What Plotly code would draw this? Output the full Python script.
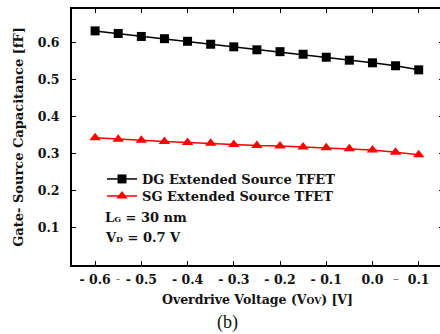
import plotly.graph_objects as go

vov = [-0.6, -0.55, -0.5, -0.45, -0.4, -0.35, -0.3, -0.25, -0.2, -0.15, -0.1, -0.05, 0.0, 0.05, 0.1]
dg_cgs = [0.631, 0.624, 0.616, 0.610, 0.603, 0.595, 0.588, 0.580, 0.575, 0.568, 0.560, 0.552, 0.545, 0.537, 0.526]
sg_cgs = [0.343, 0.339, 0.336, 0.333, 0.330, 0.328, 0.325, 0.322, 0.321, 0.318, 0.316, 0.313, 0.310, 0.304, 0.297]

x_tickvals = [-0.6, -0.5, -0.4, -0.3, -0.2, -0.1, 0.0, 0.1]
x_ticktext = ["- 0.6", "- 0.5", "- 0.4", "- 0.3", "- 0.2", "- 0.1", "0.0", "0.1"]
y_tickvals = [0.1, 0.2, 0.3, 0.4, 0.5, 0.6]
y_ticktext = ["0.1", "0.2", "0.3", "0.4", "0.5", "0.6"]

FONT = "DejaVu Serif"
W, H = 443, 334
pl, pr, pt, pb = 72, 0, 9, 69
pw, ph = W - pl - pr, H - pt - pb


def px_x(px):
    return (px - pl) / pw


def px_y(py):
    return (H - pb - py) / ph


fig = go.Figure()
fig.add_trace(go.Scatter(
    x=vov, y=dg_cgs, mode="lines+markers", name="DG Extended Source TFET",
    line=dict(color="black", width=1.5),
    marker=dict(symbol="square", size=9, color="black"),
    legend="legend",
))
fig.add_trace(go.Scatter(
    x=vov, y=sg_cgs, mode="lines+markers", name="SG Extended Source TFET",
    line=dict(color="red", width=1.5),
    marker=dict(symbol="triangle-up", size=10, color="red"),
    legend="legend2",
))

axis_common = dict(
    showline=True, linecolor="black", linewidth=2, mirror="ticks",
    ticks="inside", ticklen=4, tickwidth=1.2, tickcolor="black",
    showgrid=False, zeroline=False, automargin=False,
    tickfont=dict(family=FONT, size=12.5, color="#111", weight="bold"),
)

fig.update_xaxes(
    range=[-0.65, 0.1526], tickvals=x_tickvals, ticktext=x_ticktext,
    title=dict(text="Overdrive Voltage (V<span style='font-size:9px'>OV</span>) [V]",
               font=dict(family=FONT, size=12.5, color="#111", weight="bold"), standoff=9),
    ticklabelstandoff=2,
    **axis_common,
)
fig.update_yaxes(
    range=[0.0, 0.69], tickvals=y_tickvals, ticktext=y_ticktext,
    title=dict(text="Gate- Source Capacitance [fF]",
               font=dict(family=FONT, size=13, color="#111", weight="bold"), standoff=11),
    ticklabelstandoff=8,
    **axis_common,
)

annotations = [
    dict(x=-0.55, y=px_y(279), xref="x", yref="paper", text="-", showarrow=False,
         font=dict(family=FONT, size=12, color="#777"), yanchor="middle"),
    dict(x=0.05, y=px_y(279), xref="x", yref="paper", text="–", showarrow=False,
         font=dict(family=FONT, size=12, color="#777"), yanchor="middle"),
    dict(x=px_x(103), y=px_y(217), xref="paper", yref="paper", xanchor="left", yanchor="middle",
         text="L<span style='font-size:8px'>G</span> = 30 nm", showarrow=False,
         font=dict(family=FONT, size=13, color="#111", weight="bold")),
    dict(x=px_x(103), y=px_y(237), xref="paper", yref="paper", xanchor="left", yanchor="middle",
         text="V<span style='font-size:8px'>D</span> = 0.7 V", showarrow=False,
         font=dict(family=FONT, size=13, color="#111", weight="bold")),
    dict(x=px_x(227), y=px_y(322), xref="paper", yref="paper", text="(b)", showarrow=False,
         font=dict(family="Liberation Serif", size=18, color="#111"), yanchor="middle"),
]

leg_common = dict(
    xanchor="left", yanchor="middle",
    bgcolor="rgba(0,0,0,0)", borderwidth=0,
    font=dict(family=FONT, size=13, color="#111", weight="bold"),
    itemwidth=30,
)

fig.update_layout(
    width=W, height=H,
    margin=dict(l=pl, r=pr, t=pt, b=pb),
    paper_bgcolor="white", plot_bgcolor="white",
    font=dict(family=FONT, color="#111"),
    showlegend=True,
    legend=dict(x=px_x(102), y=px_y(179), **leg_common),
    legend2=dict(x=px_x(102), y=px_y(196), **leg_common),
    annotations=annotations,
)

fig.write_html(
    "out.html",
    config={"displayModeBar": False},
    post_script="document.body.style.margin='0';document.body.style.overflow='hidden';",
)
